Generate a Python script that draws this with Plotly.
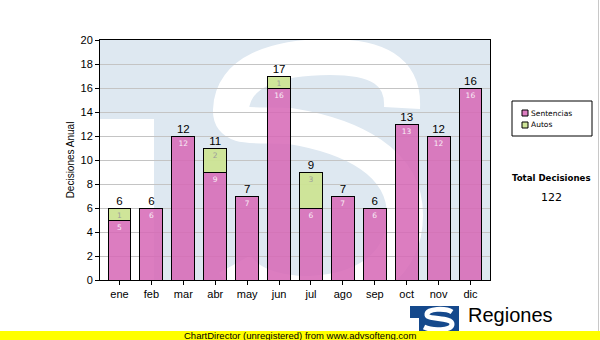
import plotly.graph_objects as go

# Monthly decision counts
months = ["ene", "feb", "mar", "abr", "may", "jun", "jul", "ago", "sep", "oct", "nov", "dic"]
sentencias = [5, 6, 12, 9, 7, 16, 6, 7, 6, 13, 12, 16]
autos = [1, 0, 0, 2, 0, 1, 3, 0, 0, 0, 0, 0]
y_ticks = list(range(0, 21, 2))

totals = [s + a for s, a in zip(sentencias, autos)]
grand_total = sum(totals)

W, H = 600, 340
L, R, T, B = 100, 110, 40, 60
PW, PH = W - L - R, H - T - B

SENT_COLOR = "rgba(214,104,182,0.86)"
AUTO_COLOR = "rgba(204,228,148,0.95)"
WATERMARK = "#dee8f1"
ARIAL = "Liberation Sans, Arial, sans-serif"
VERDANA = "DejaVu Sans, Verdana, sans-serif"


def px(x, y):
    """Pixel position on the page -> paper coordinates."""
    return (x - L) / PW, (H - B - y) / PH


def path(segments):
    out = []
    for cmd, pts in segments:
        coords = " ".join("%.4f,%.4f" % px(*p) for p in pts)
        out.append(cmd + " " + coords)
    return " ".join(out)


def rect(x0, y0, x1, y1, **kw):
    a, b = px(x0, y1)
    c, d = px(x1, y0)
    return dict(type="rect", xref="paper", yref="paper", x0=a, y0=b, x1=c, y1=d, **kw)


fig = go.Figure()

fig.add_trace(go.Bar(
    name="Sentencias", x=months, y=sentencias, width=0.72,
    marker=dict(color=SENT_COLOR, line=dict(color="black", width=1)),
    text=[str(v) for v in sentencias], textposition="inside",
    insidetextanchor="end", textangle=0, constraintext="none",
    textfont=dict(family=VERDANA, size=7.5, color="#f8eef6"),
    hoverinfo="skip",
))
fig.add_trace(go.Bar(
    name="Autos", x=months, y=autos, width=0.72,
    marker=dict(color=AUTO_COLOR, line=dict(color="black", width=1)),
    text=[str(v) if v else "" for v in autos], textposition="inside",
    insidetextanchor="end", textangle=0, constraintext="none",
    textfont=dict(family=VERDANA, size=7.5, color="#9c9c9c"),
    hoverinfo="skip",
))
fig.add_trace(go.Scatter(
    x=months, y=totals, mode="text", text=[str(v) for v in totals],
    textposition="top center", cliponaxis=False,
    textfont=dict(family=ARIAL, size=11.5, color="black"),
    hoverinfo="skip",
))

shapes = []
# "TS" watermark behind the plot area
shapes.append(rect(L, T, L + PW, T + PH, fillcolor=WATERMARK, line=dict(width=0), layer="below"))
shapes.append(rect(L, 119, 154, T + PH, fillcolor="white", line=dict(width=0), layer="below"))
shapes.append(dict(
    type="path", xref="paper", yref="paper", layer="below",
    path=path([
        ("M", [(402, 108)]),
        ("C", [(404, 70), (376, 57), (330, 57)]),
        ("C", [(275, 57), (232, 72), (231, 110)]),
        ("C", [(230, 130), (256, 124), (290, 126)]),
        ("C", [(352, 136), (405, 162), (405, 215)]),
        ("C", [(405, 265), (365, 292), (310, 294)]),
        ("C", [(270, 294), (245, 282), (235, 264)]),
    ]),
    fillcolor="rgba(0,0,0,0)", line=dict(color="white", width=36),
))

# Legend box
shapes.append(rect(512, 101, 592, 136, fillcolor="white", line=dict(color="black", width=1), layer="above"))
shapes.append(rect(522, 110, 528, 116, fillcolor=SENT_COLOR, line=dict(color="black", width=1), layer="above"))
shapes.append(rect(522, 122, 528, 128, fillcolor=AUTO_COLOR, line=dict(color="black", width=1), layer="above"))

# Logo block
shapes.append(rect(410, 306, 459, 340, fillcolor="#15498c", line=dict(width=0), layer="above"))
shapes.append(rect(410, 318, 419, 340, fillcolor="white", line=dict(width=0), layer="above"))
shapes.append(dict(
    type="path", xref="paper", yref="paper", layer="above",
    path=path([
        ("M", [(452, 312)]),
        ("C", [(446, 308), (426, 308), (427, 315)]),
        ("C", [(428, 320), (452, 317), (452, 324)]),
        ("C", [(452, 331), (432, 331), (424, 327)]),
    ]),
    fillcolor="rgba(0,0,0,0)", line=dict(color="white", width=5),
))

# Footer bar and page edge
shapes.append(rect(0, 331, 600, 340, fillcolor="#ffff00", line=dict(width=0), layer="above"))
a, b = px(598.5, 0)
c, d = px(598.5, 331)
shapes.append(dict(type="line", xref="paper", yref="paper", x0=a, y0=b, x1=c, y1=d,
                   line=dict(color="#c8c8c8", width=1), layer="above"))

annotations = []


def note(x, y, text, size, family=ARIAL, color="black", xanchor="left", bold=False):
    ax, ay = px(x, y)
    annotations.append(dict(
        xref="paper", yref="paper", x=ax, y=ay, text=("<b>%s</b>" % text) if bold else text,
        showarrow=False, xanchor=xanchor, yanchor="middle",
        font=dict(family=family, size=size, color=color),
    ))


note(529, 113, "Sentencias", 7.5, family=VERDANA)
note(529, 125, "Autos", 7.5, family=VERDANA)
note(551, 178, "Total Decisiones", 8.6, family=VERDANA, xanchor="center", bold=True)
note(551, 197, str(grand_total), 11, family=VERDANA, xanchor="center")
note(466, 315, "Regiones", 20)
note(300, 335.5, "ChartDirector (unregistered) from www.advsofteng.com", 9.5, xanchor="center")

fig.update_layout(
    width=W, height=H, autosize=False,
    margin=dict(l=L, r=R, t=T, b=B, pad=0),
    paper_bgcolor="white", plot_bgcolor="white",
    barmode="stack", bargap=0.28, showlegend=False,
    shapes=shapes, annotations=annotations,
    font=dict(family=ARIAL, size=11, color="black"),
)
fig.update_xaxes(
    type="category", showline=True, linecolor="black", linewidth=1, mirror=True,
    ticks="outside", ticklen=4, tickcolor="black", showgrid=False,
    tickfont=dict(family=ARIAL, size=11, color="black"),
)
fig.update_yaxes(
    range=[0, 20], tickvals=y_ticks, showline=True, linecolor="black", linewidth=1, mirror=True,
    ticks="outside", ticklen=4, tickcolor="black", showgrid=True, gridcolor="#c4c4c4",
    gridwidth=1, zeroline=False,
    tickfont=dict(family=ARIAL, size=11, color="black"),
    title=dict(text="Decisiones Anual", font=dict(family=ARIAL, size=10, color="black"), standoff=4),
)

fig.write_html("out.html")
